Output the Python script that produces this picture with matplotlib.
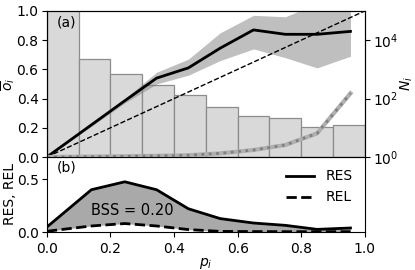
import numpy as np
import matplotlib
matplotlib.use("Agg")
import matplotlib.pyplot as plt

# --- values ---
bin_edges = [0.0, 0.1, 0.2, 0.3, 0.4, 0.5, 0.6, 0.7, 0.8, 0.9, 1.0]
n_counts = [1.5e5, 2200, 700, 300, 128, 51, 25, 21, 10, 11.5]

p_mean = [0.0, 0.14, 0.245, 0.345, 0.445, 0.545, 0.65, 0.75, 0.85, 0.955]
o_bar = [0.0, 0.22, 0.385, 0.54, 0.61, 0.745, 0.87, 0.84, 0.84, 0.86]
o_low = [0.0, 0.21, 0.37, 0.50, 0.56, 0.66, 0.74, 0.68, 0.61, 0.69]
o_high = [0.0, 0.23, 0.40, 0.58, 0.67, 0.85, 0.97, 0.96, 1.05, 1.1]
spread = [0.0, 0.003, 0.005, 0.008, 0.012, 0.025, 0.048, 0.082, 0.162, 0.436]

res = [0.047, 0.40, 0.475, 0.40, 0.22, 0.127, 0.085, 0.063, 0.025, 0.038]
rel = [0.007, 0.057, 0.08, 0.057, 0.023, 0.006, 0.004, 0.003, 0.003, 0.003]
bss = 0.20

plt.rcParams["font.size"] = 10
plt.rcParams["ytick.major.pad"] = 2.5

fig = plt.figure(figsize=(4.15, 2.7), dpi=100)
ax1 = fig.add_axes([0.113, 0.4185, 0.766, 0.541])
ax3 = fig.add_axes([0.113, 0.1407, 0.766, 0.278])

# (a) histogram of counts on the log axis, behind the curves
ax2 = ax1.twinx()
widths = np.diff(bin_edges)
ax2.bar(bin_edges[:-1], n_counts, width=widths, align="edge", bottom=1,
        color="#d9d9d9", edgecolor="#8c8c8c", linewidth=0.9)
ax2.set_yscale("log")
ax2.set_ylim(1, 1e5)
ax2.set_yticks([1, 1e2, 1e4])
ax2.minorticks_off()
ax2.set_ylabel("$N_i$", labelpad=0)
ax1.set_zorder(ax2.get_zorder() + 1)
ax1.patch.set_visible(False)

ax1.fill_between(p_mean, o_low, o_high, color="gray", alpha=0.5, lw=0)
ax1.plot([0, 1], [0, 1], "k--", lw=1)
ax1.plot(p_mean, o_bar, color="black", lw=2)
ax1.plot(p_mean, spread, color="#b0b0b0", lw=3)
ax1.plot(p_mean, spread, color="#808080", lw=2, ls=":")
ax1.set_xlim(0, 1)
ax1.set_ylim(0, 1)
ax1.set_xticks([])
ax1.set_ylabel(r"$\overline{o}_i$", labelpad=0)
ax1.text(0.03, 0.97, "(a)", transform=ax1.transAxes, va="top", ha="left")

# (b) resolution and reliability
ax3.fill_between(p_mean, rel, res, color="darkgray", lw=0)
ax3.plot(p_mean, res, color="black", lw=2, label="RES")
ax3.plot(p_mean, rel, color="black", lw=2, ls="--", label="REL")
ax3.text(0.27, 0.2, "BSS = %.2f" % bss, ha="center", va="center", fontsize=10.5)
ax3.text(0.03, 0.95, "(b)", transform=ax3.transAxes, va="top", ha="left")
ax3.set_xlim(0, 1)
ax3.set_ylim(0, 0.71)
ax3.set_yticks([0.0, 0.5])
ax3.set_xticks([0.0, 0.2, 0.4, 0.6, 0.8, 1.0])
ax3.spines["top"].set_visible(False)
ax3.set_xlabel("$p_i$", labelpad=0)
ax3.set_ylabel("RES, REL", labelpad=0)
ax3.legend(loc="upper right", frameon=False)

fig.savefig("out.png", dpi=100)
